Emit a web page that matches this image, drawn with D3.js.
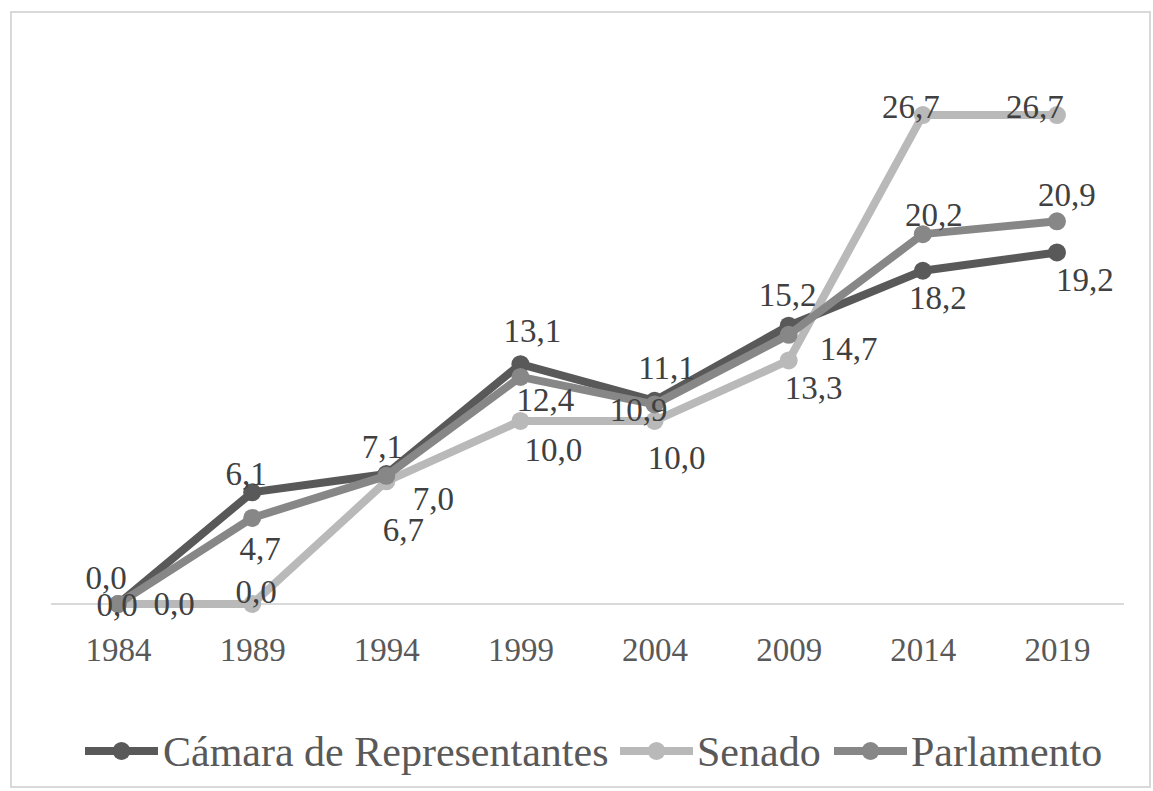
<!DOCTYPE html>
<html>
<head>
<meta charset="utf-8">
<script src="https://cdn.jsdelivr.net/npm/d3@7"></script>
<style>
  html, body { margin: 0; padding: 0; background: #fff; }
  svg { display: block; font-family: "Liberation Serif", "Times New Roman", serif; }
</style>
</head>
<body>
<div id="chart"></div>
<script>
// data
const years = ["1984", "1989", "1994", "1999", "2004", "2009", "2014", "2019"];
const camara = [0.0, 6.1, 7.1, 13.1, 11.1, 15.2, 18.2, 19.2];
const senado = [0.0, 0.0, 6.7, 10.0, 10.0, 13.3, 26.7, 26.7];
const parlamento = [0.0, 4.7, 7.0, 12.4, 10.9, 14.7, 20.2, 20.9];
const seriesNames = ["Cámara de Representantes", "Senado", "Parlamento"];

// label nudges (dx, dy) from each point, matching the original placement
const camaraLabelOff = [[-12,-26],[-6,-18],[-4,-27],[12,-33],[12,-33],[-1,-31],[15,27],[28,28]];
const senadoLabelOff = [[-1,1],[4,-12],[17,49],[33,29],[22,37],[25,28],[-12,-8],[-22,-8]];
const parlamentoLabelOff = [[56,0],[8,31],[47,23],[25,23],[-16,6],[60,14],[11,-19],[10,-26]];

const W = 1153, H = 791;
const colors = ["#595959", "#b9b9b9", "#878787"];

const series = [
  { name: seriesNames[0], values: camara, off: camaraLabelOff, color: colors[0] },
  { name: seriesNames[1], values: senado, off: senadoLabelOff, color: colors[1] },
  { name: seriesNames[2], values: parlamento, off: parlamentoLabelOff, color: colors[2] }
];

const svg = d3.select("#chart").append("svg")
  .attr("width", W).attr("height", H);

// outer frame
svg.append("rect")
  .attr("x", 11).attr("y", 12)
  .attr("width", 1139).attr("height", 775)
  .attr("fill", "#fff").attr("stroke", "#d9d9d9").attr("stroke-width", 2);

const x = d3.scalePoint().domain(years).range([51, 1124]).padding(0.5);
const y = d3.scaleLinear().domain([0, 30]).range([604, 604 - 30 * 18.31]);

// x axis
const xAxis = svg.append("g")
  .attr("transform", "translate(0,604)")
  .call(d3.axisBottom(x).tickSize(0).tickPadding(0));
xAxis.select(".domain").attr("stroke", "#d9d9d9").attr("stroke-width", 2)
  .attr("d", "M51,0H1124");
xAxis.selectAll(".tick text")
  .attr("font-family", "Liberation Serif, serif")
  .attr("font-size", 33)
  .attr("fill", "#595959")
  .attr("y", 46)
  .attr("dy", "0.33em");

const line = d3.line()
  .x((d, i) => x(years[i]))
  .y(d => y(d));

series.forEach(s => {
  svg.append("path")
    .datum(s.values)
    .attr("fill", "none")
    .attr("stroke", s.color)
    .attr("stroke-width", 8)
    .attr("stroke-linejoin", "round")
    .attr("d", line);
  svg.append("g").selectAll("circle")
    .data(s.values)
    .join("circle")
    .attr("cx", (d, i) => x(years[i]))
    .attr("cy", d => y(d))
    .attr("r", 9)
    .attr("fill", s.color);
});

// data labels
const fmt = v => v.toFixed(1).replace(".", ",");
series.forEach(s => {
  svg.append("g").selectAll("text")
    .data(s.values)
    .join("text")
    .attr("x", (d, i) => x(years[i]) + s.off[i][0])
    .attr("y", (d, i) => y(d) + s.off[i][1])
    .attr("dy", "0.33em")
    .attr("text-anchor", "middle")
    .attr("font-size", 33)
    .attr("fill", "#404040")
    .text(d => fmt(d));
});

// legend
const legendItems = [
  { x0: 85, tx: 163 },
  { x0: 620, tx: 697 },
  { x0: 834, tx: 911 }
];
const ly = 751;
series.forEach((s, i) => {
  const it = legendItems[i];
  const g = svg.append("g");
  g.append("line")
    .attr("x1", it.x0).attr("x2", it.x0 + 73)
    .attr("y1", ly).attr("y2", ly)
    .attr("stroke", s.color).attr("stroke-width", 8);
  g.append("circle")
    .attr("cx", it.x0 + 36.5).attr("cy", ly).attr("r", 9)
    .attr("fill", s.color);
  g.append("text")
    .attr("x", it.tx).attr("y", ly)
    .attr("dy", "0.36em")
    .attr("font-size", 42)
    .attr("fill", "#595959")
    .text(s.name);
});
</script>
</body>
</html>
